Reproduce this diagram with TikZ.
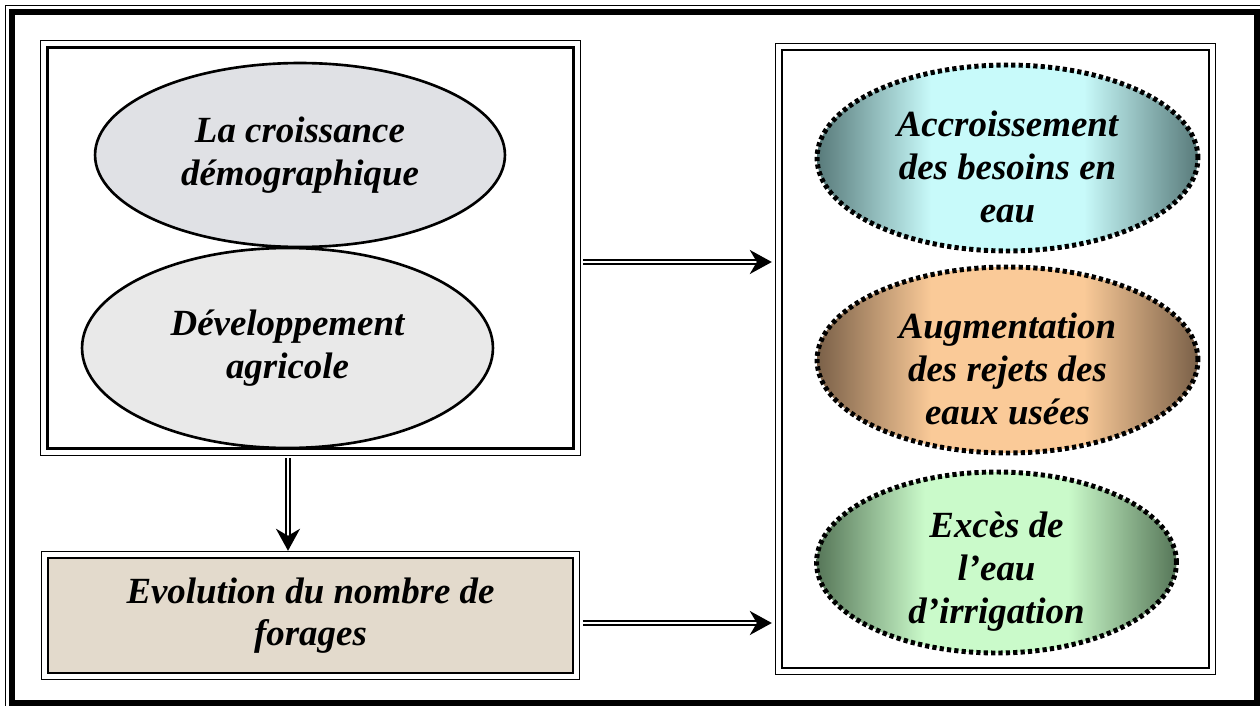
\documentclass[tikz,border=0pt]{standalone}
\usepackage{fontspec}
\setmainfont{Liberation Serif}
\usetikzlibrary{shapes.geometric,arrows.meta,positioning,calc}

\definecolor{tealdark}{RGB}{88,122,122}
\definecolor{teallight}{RGB}{200,250,250}
\definecolor{browndark}{RGB}{122,96,72}
\definecolor{brownlight}{RGB}{250,202,152}
\definecolor{greendark}{RGB}{86,118,88}
\definecolor{greenlight}{RGB}{202,250,202}
\definecolor{marble}{RGB}{224,225,229}
\definecolor{granite}{RGB}{233,233,233}
\definecolor{parchment}{RGB}{227,218,204}

\pgfdeclarehorizontalshading{tealshade}{100bp}{color(0bp)=(tealdark); color(25bp)=(tealdark); color(40bp)=(teallight); color(60bp)=(teallight); color(75bp)=(tealdark); color(100bp)=(tealdark)}
\pgfdeclarehorizontalshading{brownshade}{100bp}{color(0bp)=(browndark); color(25bp)=(browndark); color(40bp)=(brownlight); color(60bp)=(brownlight); color(75bp)=(browndark); color(100bp)=(browndark)}
\pgfdeclarehorizontalshading{greenshade}{100bp}{color(0bp)=(greendark); color(25bp)=(greendark); color(40bp)=(greenlight); color(60bp)=(greenlight); color(75bp)=(greendark); color(100bp)=(greendark)}

\tikzset{
  texte/.style={font=\bfseries\itshape\fontsize{21}{24.3}\selectfont, align=center},
  cadre/.style={draw, line width=1.4pt, inner sep=0pt},
  bord/.style={draw, line width=0.75pt},
  cause/.style={ellipse, draw, line width=1.5pt, inner sep=0pt, texte},
  effet/.style={ellipse, draw, line width=2.8pt, dash pattern=on 2.4pt off 1.8pt, inner sep=0pt},
  legende/.style={label={[texte, yshift=-0.18cm]center:#1}},
  fleche/.style={double, double distance=0.85pt, line width=1.4pt, -{Stealth[length=0.44cm, width=0.48cm, inset=0.14cm]}}
}

\begin{document}
\begin{tikzpicture}[x=0.02cm, y=-0.02cm]
    \useasboundingbox (0,0) rectangle (1260,706);

    % Outer frame
    \draw[line width=0.7pt] (5.5,706) -- (5.5,5.5) -- (1260,5.5);
    \draw[line width=3.4pt] (12,12) rectangle (1256.5,703);

    % Boxes
    \node[cadre, minimum width=10.52cm, minimum height=8.02cm] (lbox) at (310.5,248) {};
    \node[cadre, minimum width=8.54cm, minimum height=12.36cm] (rbox) at (995.5,359) {};
    \node[cadre, texte, fill=parchment, minimum width=10.5cm, minimum height=2.3cm] (evol) at (310.5,615.5) {Evolution du nombre de\\forages};
    \foreach \b in {lbox,rbox,evol}
        \draw[bord] ([shift={(-5.5,-5.5)}]\b.north west) rectangle ([shift={(5.5,5.5)}]\b.south east);

    % Causes
    \node[cause, fill=marble, minimum width=8.2cm, minimum height=3.68cm] (demo) at (300,155) {La croissance\\démographique};
    \node[cause, fill=granite, minimum width=8.22cm, minimum height=4cm] (agri) at (287.5,348) {Développement\\agricole};

    % Effects
    \node[effet, shading=tealshade, minimum width=7.62cm, minimum height=3.72cm,
          legende={Accroissement\\des besoins en\\eau}] (besoins) at (1007.5,158) {};
    \node[effet, shading=brownshade, minimum width=7.62cm, minimum height=3.72cm,
          legende={Augmentation\\des rejets des\\eaux usées}] (rejets) at (1007.5,360) {};
    \node[effet, shading=greenshade, minimum width=7.2cm, minimum height=3.62cm,
          legende={Excès de\\l’eau\\d’irrigation}] (irrig) at (996.5,562.5) {};

    % Arrows
    \coordinate (a1) at ([yshift=-0.28cm]lbox.east);
    \coordinate (a2) at ([yshift=-0.15cm]evol.east);
    \coordinate (a3) at ([xshift=-0.45cm]lbox.south);
    \draw[fleche, shorten <=0.17cm, shorten >=0.18cm] (a1) -- (a1 -| rbox.west);
    \draw[fleche, shorten <=0.17cm, shorten >=0.18cm] (a2) -- (a2 -| rbox.west);
    \draw[fleche, shorten <=0.17cm, shorten >=0.12cm] (a3) -- (a3 |- evol.north);
\end{tikzpicture}
\end{document}
